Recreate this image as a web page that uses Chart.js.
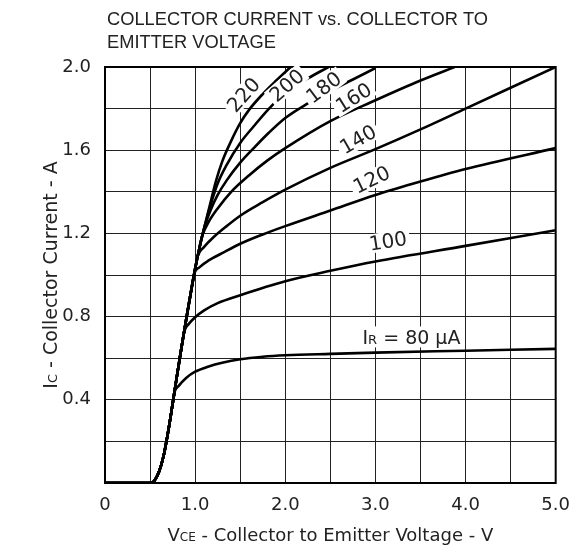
<!DOCTYPE html>
<html>
<head>
<meta charset="utf-8">
<script src="https://cdn.jsdelivr.net/npm/chart.js@4.4.1/dist/chart.umd.min.js"></script>
<style>
  html, body { margin: 0; padding: 0; background: #fff; }
</style>
</head>
<body>
<canvas id="chart" width="582" height="552"></canvas>
<script>
const FONT = '"DejaVu Sans", Verdana, sans-serif';
const TITLE_FONT = '"Liberation Sans", Arial, sans-serif';

// shared rising part of all curves: [V, A]
const baseCurve = [[0, 0], [0.51, 0], [0.55, 0.012], [0.6, 0.055], [0.65, 0.13], [0.7, 0.245], [0.75, 0.38],
  [0.8, 0.52], [0.85, 0.655], [0.9, 0.785], [0.95, 0.91], [1.0, 1.03], [1.05, 1.135], [1.1, 1.225]];

// each curve from where it leaves the base
const ib80 = [[0.77, 0.435], [0.82, 0.468], [0.9, 0.505], [1.0, 0.535], [1.15, 0.56], [1.3, 0.578], [1.5, 0.595],
  [1.75, 0.607], [2.0, 0.614], [2.5, 0.621], [3.0, 0.627], [4.0, 0.636], [5.0, 0.645]];
const ib100 = [[0.88, 0.73], [0.93, 0.765], [1.0, 0.797], [1.1, 0.83], [1.25, 0.865], [1.5, 0.903], [2.0, 0.97],
  [2.5, 1.02], [3.0, 1.065], [4.0, 1.14], [5.0, 1.215]];
const ib120 = [[0.99, 1.006], [1.05, 1.038], [1.15, 1.07], [1.3, 1.105], [1.5, 1.15], [1.75, 1.195], [2.0, 1.235],
  [2.5, 1.31], [3.0, 1.385], [3.5, 1.45], [4.0, 1.51], [5.0, 1.61]];
const ib140 = [[1.03, 1.093], [1.1, 1.135], [1.2, 1.18], [1.35, 1.235], [1.5, 1.285], [1.75, 1.35], [2.0, 1.41],
  [2.5, 1.515], [3.0, 1.605], [3.5, 1.7], [4.0, 1.8], [5.0, 2.0]];
const ib160 = [[1.08, 1.19], [1.15, 1.255], [1.25, 1.32], [1.4, 1.4], [1.6, 1.48], [1.8, 1.55], [2.0, 1.61],
  [2.5, 1.74], [3.0, 1.84], [3.5, 1.935], [3.88, 2.0]];
const ib180 = [[1.1, 1.225], [1.17, 1.31], [1.25, 1.385], [1.35, 1.455], [1.5, 1.54], [1.65, 1.61], [1.82, 1.685],
  [2.0, 1.755], [2.25, 1.825], [2.5, 1.885], [2.75, 1.94], [3.0, 1.995]];
const ib200 = [[1.1, 1.225], [1.17, 1.335], [1.25, 1.44], [1.35, 1.53], [1.5, 1.635], [1.65, 1.715], [1.82, 1.8],
  [2.0, 1.875], [2.25, 1.945], [2.48, 2.0]];
const ib220 = [[1.1, 1.225], [1.16, 1.33], [1.23, 1.45], [1.3, 1.545], [1.4, 1.645], [1.5, 1.73], [1.6, 1.795],
  [1.75, 1.87], [1.9, 1.935], [2.06, 2.0]];

const curves = [ib80, ib100, ib120, ib140, ib160, ib180, ib200, ib220];

// curve labels, anchored in data units
const curveLabels = ['220', '200', '180', '160', '140', '120', '100'];
const labelV = [1.54, 2.02, 2.43, 2.76, 2.81, 2.96, 3.14];
const labelI = [1.865, 1.91, 1.9, 1.85, 1.65, 1.457, 1.16];
const labelAngle = [-48, -41, -37, -32, -30, -26, -9];

const titleLines = ['COLLECTOR CURRENT vs. COLLECTOR TO', 'EMITTER VOLTAGE'];

function fullCurve(tail) {
  return baseCurve.filter(p => p[0] < tail[0][0]).concat(tail).map(p => ({ x: p[0], y: p[1] }));
}

// text with small-caps subscript parts: [[text, small], ...]
function drawParts(ctx, parts, x, y, size, align) {
  const big = size + 'px ' + FONT, small = Math.round(size * 0.68) + 'px ' + FONT;
  let w = 0;
  parts.forEach(p => { ctx.font = p[1] ? small : big; w += ctx.measureText(p[0]).width; });
  let cx = align === 'center' ? x - w / 2 : x;
  ctx.textAlign = 'left';
  ctx.textBaseline = 'alphabetic';
  parts.forEach(p => {
    ctx.font = p[1] ? small : big;
    ctx.fillText(p[0], cx, y);
    cx += ctx.measureText(p[0]).width;
  });
  return w;
}

const decorPlugin = {
  id: 'decor',
  afterDatasetsDraw(chart) {
    const ctx = chart.ctx, xs = chart.scales.x, ys = chart.scales.y, a = chart.chartArea;
    ctx.save();
    ctx.lineWidth = 2;
    ctx.strokeStyle = '#000';
    ctx.strokeRect(a.left, a.top, a.right - a.left, a.bottom - a.top);

    ctx.font = '20px ' + FONT;
    ctx.textAlign = 'center';
    ctx.textBaseline = 'middle';
    curveLabels.forEach((t, i) => {
      const px = xs.getPixelForValue(labelV[i]), py = ys.getPixelForValue(labelI[i]);
      ctx.save();
      ctx.translate(px, py);
      ctx.rotate(labelAngle[i] * Math.PI / 180);
      const w = ctx.measureText(t).width;
      ctx.fillStyle = '#fff';
      ctx.fillRect(-w / 2 - 3, -10, w + 6, 19);
      ctx.fillStyle = '#222';
      ctx.fillText(t, 0, 1);
      ctx.restore();
    });

    // I_R = 80 uA label
    const lx = xs.getPixelForValue(3.4), ly = ys.getPixelForValue(0.7);
    const parts = [['I', false], ['R', true], [' = 80 \u03bcA', false]];
    ctx.fillStyle = '#fff';
    ctx.fillRect(lx - 52, ly - 11, 104, 21);
    ctx.fillStyle = '#222';
    drawParts(ctx, parts, lx, ly + 7, 19, 'center');
    ctx.restore();
  },
  afterDraw(chart) {
    const ctx = chart.ctx, a = chart.chartArea;
    ctx.save();
    ctx.fillStyle = '#222';
    ctx.font = '19px ' + TITLE_FONT;
    ctx.textAlign = 'left';
    ctx.textBaseline = 'alphabetic';
    const w0 = ctx.measureText(titleLines[0]).width;
    const sx = 381 / w0;
    titleLines.forEach((t, i) => {
      ctx.save();
      ctx.translate(107, 25 + i * 23);
      ctx.scale(sx, 1);
      ctx.fillText(t, 0, 0);
      ctx.restore();
    });

    drawParts(ctx, [['V', false], ['CE', true], [' - Collector to Emitter Voltage - V', false]],
      (a.left + a.right) / 2, 541, 18, 'center');

    ctx.translate(57, (a.top + a.bottom) / 2);
    ctx.rotate(-Math.PI / 2);
    drawParts(ctx, [['I', false], ['C', true], [' - Collector Current - A', false]], 0, 0, 19, 'center');
    ctx.restore();
  }
};

new Chart(document.getElementById('chart'), {
  type: 'line',
  data: {
    datasets: curves.map(c => ({
      data: fullCurve(c),
      borderColor: '#000',
      borderWidth: 2.6,
      pointRadius: 0,
      fill: false,
      cubicInterpolationMode: 'monotone',
    })),
  },
  options: {
    responsive: false,
    animation: false,
    layout: { padding: { top: 67, right: 24, left: 0, bottom: 0 } },
    plugins: { legend: { display: false }, tooltip: { enabled: false }, title: { display: false } },
    scales: {
      x: {
        type: 'linear',
        min: 0,
        max: 5,
        afterFit: (s) => { s.height = 69; },
        border: { display: false },
        grid: { color: '#222', lineWidth: 1, drawTicks: false },
        ticks: {
          stepSize: 0.5,
          autoSkip: false,
          maxRotation: 0,
          padding: 12,
          color: '#222',
          font: { family: FONT, size: 18 },
          callback: (v) => (v === 0 ? '0' : Number.isInteger(v) ? v.toFixed(1) : ''),
        },
      },
      y: {
        min: 0,
        max: 2.0,
        afterFit: (s) => { s.width = 105; },
        border: { display: false },
        grid: { color: '#222', lineWidth: 1, drawTicks: false },
        ticks: {
          stepSize: 0.2,
          autoSkip: false,
          padding: 14,
          color: '#222',
          font: { family: FONT, size: 18 },
          callback: (v) => {
            const k = Math.round(v / 0.2);
            return k > 0 && k % 2 === 0 ? (k * 0.2).toFixed(1) : '';
          },
        },
      },
    },
  },
  plugins: [decorPlugin],
});
</script>
</body>
</html>
